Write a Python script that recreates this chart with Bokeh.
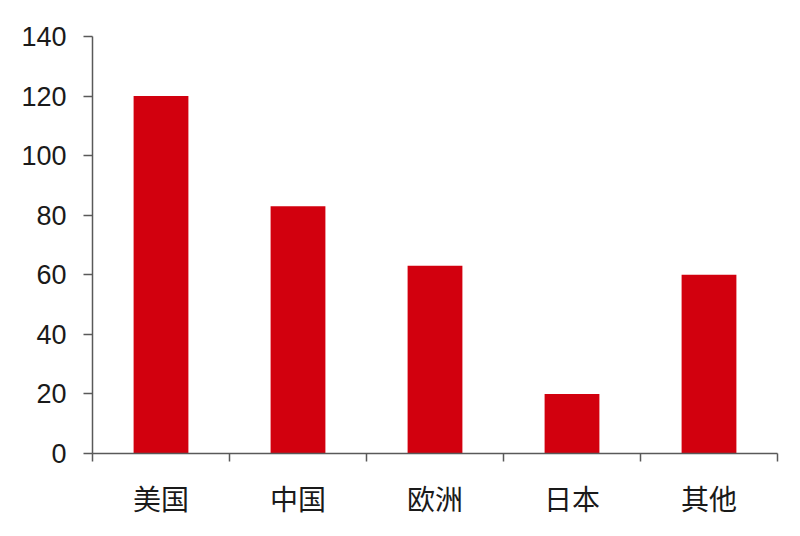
from bokeh.plotting import figure
from bokeh.models import FixedTicker, Range1d
from bokeh.embed import file_html
from bokeh.resources import INLINE

regions = ["美国", "中国", "欧洲", "日本", "其他"]
values = [120, 83, 63, 20, 60]
y_ticks = [0, 20, 40, 60, 80, 100, 120, 140]

centers = [i + 0.5 for i in range(len(regions))]
bounds = list(range(len(regions) + 1))

p = figure(width=784, height=520, output_backend="svg", toolbar_location=None,
           x_range=Range1d(0, len(regions)), y_range=Range1d(0, 140),
           min_border_left=92, min_border_top=36, min_border_right=7, min_border_bottom=67)
p.grid.grid_line_color = None
p.outline_line_color = None
p.background_fill_color = "white"

p.vbar(x=centers, top=values, width=0.4, fill_color="#D2000E", line_color=None)

xa = p.xaxis[0]
xa.ticker = FixedTicker(ticks=centers, minor_ticks=bounds)
xa.major_label_overrides = {c: r for c, r in zip(centers, regions)}
xa.major_tick_in = 0
xa.major_tick_out = 0
xa.minor_tick_in = 0
xa.minor_tick_out = 8
xa.axis_line_color = "#595959"
xa.axis_line_width = 1.5
xa.minor_tick_line_color = "#595959"
xa.minor_tick_line_width = 1.5
xa.major_label_text_font = "Noto Sans CJK SC"
xa.major_label_text_font_size = "28px"
xa.major_label_text_color = "#1a1a1a"
xa.major_label_standoff = 16

ya = p.yaxis[0]
ya.ticker = FixedTicker(ticks=y_ticks)
ya.major_tick_in = 0
ya.major_tick_out = 9
ya.minor_tick_line_color = None
ya.axis_line_color = "#595959"
ya.axis_line_width = 1.5
ya.major_tick_line_color = "#595959"
ya.major_tick_line_width = 1.5
ya.major_label_text_font = "Liberation Sans"
ya.major_label_text_font_size = "27px"
ya.major_label_text_color = "#1a1a1a"
ya.major_label_standoff = 17

open("out.html", "w").write(file_html(p, INLINE))
